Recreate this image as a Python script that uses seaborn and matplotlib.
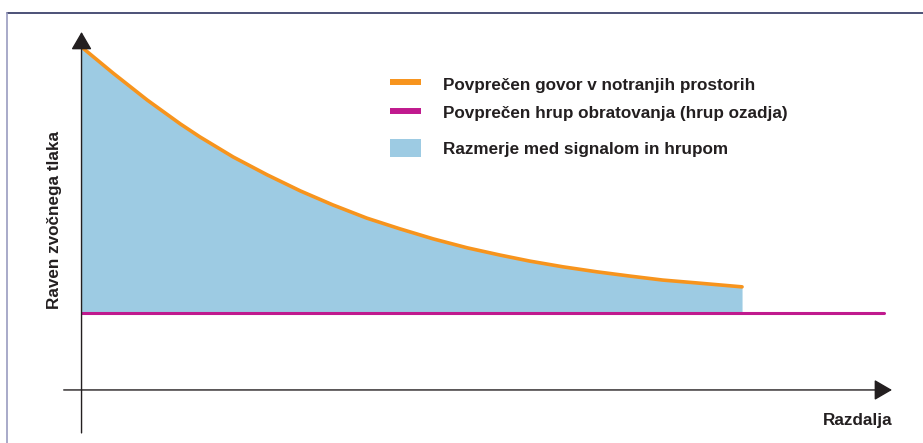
import matplotlib
matplotlib.use("Agg")
import matplotlib.pyplot as plt
from matplotlib.lines import Line2D
from matplotlib.patches import Patch
import seaborn as sns

# values (distance 0..100, level 0..100, arbitrary units)
distance = [0, 3.9, 8.1, 12.2, 14.6, 18.7, 22.9, 27.0, 31.0, 35.2, 39.3,
            43.4, 47.6, 51.6, 55.3, 59.4, 63.6, 67.7, 71.7, 75.9, 81.5]
speech_level = [95.8, 88.5, 81.0, 74.3, 70.7, 65.1, 60.1, 55.6, 51.7, 48.0, 45.0,
                42.2, 39.7, 37.7, 36.0, 34.4, 33.0, 31.8, 30.7, 29.9, 28.8]
noise_distance = [0, 99.0]
noise_level = [21.5, 21.5]

labels = ["Povprečen govor v notranjih prostorih",
          "Povprečen hrup obratovanja (hrup ozadja)",
          "Razmerje med signalom in hrupom"]
ylabel = "Raven zvočnega tlaka"
xlabel = "Razdalja"

ORANGE = "#f7941d"
MAGENTA = "#c01a8e"
FILL = "#9dcbe3"
INK = "#231f20"

sns.set_theme(style="white")
plt.rcParams["font.family"] = ["Liberation Sans", "DejaVu Sans"]
plt.rcParams["font.weight"] = "bold"

fig = plt.figure(figsize=(9.23, 4.43), dpi=100)
ax = fig.add_axes([0.062, 0.0147, 0.9044, 0.9131])
ax.set_xlim(-3, 100)
ax.set_ylim(-13, 100)
ax.axis("off")

# signal-to-noise area
ax.fill_between(distance, speech_level, noise_level[0], color=FILL, lw=0, zorder=1)
sns.lineplot(x=distance, y=speech_level, color=ORANGE, lw=2.6, ax=ax, zorder=3,
             sort=False, estimator=None)
sns.lineplot(x=noise_distance, y=noise_level, color=MAGENTA, lw=2.2, ax=ax, zorder=3,
             estimator=None)

# axes with arrow heads
arrow = dict(arrowstyle="-|>,head_length=0.55,head_width=0.32", color=INK, lw=1.0,
             mutation_scale=20, shrinkA=0, shrinkB=0)
ax.annotate("", xy=(0, 100), xytext=(0, -12), arrowprops=arrow, zorder=5,
            annotation_clip=False)
ax.annotate("", xy=(100, 0), xytext=(-2.2, 0), arrowprops=arrow, zorder=5,
            annotation_clip=False)

fig.text(55 / 923, 1 - 220 / 443, ylabel, rotation=90, ha="center", va="center",
         fontsize=12.3, fontweight="bold", color=INK)
fig.text(892 / 923, 1 - 420 / 443, xlabel, ha="right", va="center",
         fontsize=12.3, fontweight="bold", color=INK)

# legend: two line entries, then the area entry a bit lower
leg_opts = dict(loc="upper left", frameon=False, fontsize=12.3, handlelength=1.8,
                handleheight=1.23, handletextpad=1.29, labelspacing=0.62,
                borderpad=0, borderaxespad=0)
line_handles = [Line2D([], [], color=ORANGE, lw=4.3, solid_capstyle="butt"),
                Line2D([], [], color=MAGENTA, lw=4.3, solid_capstyle="butt")]
leg1 = fig.legend(line_handles, labels[:2], bbox_to_anchor=(390 / 923, 1 - 75 / 443),
                  **leg_opts)
leg2 = fig.legend([Patch(facecolor=FILL, edgecolor="none")], labels[2:],
                  bbox_to_anchor=(390 / 923, 1 - 139 / 443), **leg_opts)
for leg in (leg1, leg2):
    for t in leg.get_texts():
        t.set_color(INK)
        t.set_fontweight("bold")

# frame around the figure (top and left edges)
fig.add_artist(Line2D([7 / 923, 1], [1 - 13 / 443, 1 - 13 / 443], color="#2e3460", lw=1.2))
fig.add_artist(Line2D([7.5 / 923, 7.5 / 923], [0, 1 - 13 / 443], color="#9a9cc0", lw=1.2))

fig.savefig("out.png", dpi=100)
